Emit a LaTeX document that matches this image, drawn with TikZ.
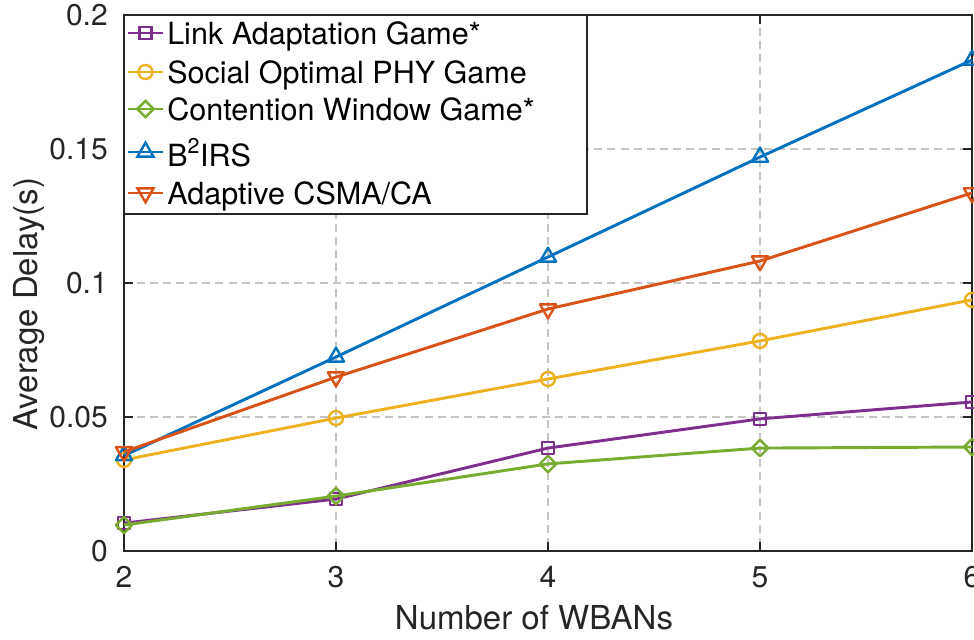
\documentclass[tikz,border=0pt]{standalone}
\usepackage{fontspec}
\setmainfont{TeX Gyre Heros}
\usetikzlibrary{shapes.geometric}

\definecolor{cpurple}{rgb}{0.494,0.184,0.556}
\definecolor{cyellow}{rgb}{0.929,0.694,0.125}
\definecolor{cgreen}{rgb}{0.466,0.674,0.188}
\definecolor{cblue}{rgb}{0,0.447,0.741}
\definecolor{corange}{rgb}{0.85,0.325,0.098}
\definecolor{caxis}{HTML}{262626}
\definecolor{cgrid}{HTML}{C4C4C4}

\tikzset{
  gridline/.style={draw=cgrid, line width=0.8pt, dash pattern=on 6pt off 3.8pt},
  axisline/.style={draw=caxis, line width=0.9pt},
  series/.style={line width=2.2pt, line join=round},
  mk/.style={draw, line width=1.8pt, inner sep=0pt, fill=none},
  sqmark/.style={mk, rectangle, minimum size=9pt},
  cimark/.style={mk, circle, minimum size=10.5pt},
  dimark/.style={mk, diamond, aspect=1, minimum size=13pt},
  upmark/.style={mk, regular polygon, regular polygon sides=3, minimum size=14pt},
  dnmark/.style={mk, regular polygon, regular polygon sides=3, minimum size=14pt, shape border rotate=180},
  ticklbl/.style={inner sep=0pt, font=\fontsize{22.5pt}{27pt}\selectfont, text=caxis},
  axlbl/.style={inner sep=0pt, font=\fontsize{24.75pt}{29pt}\selectfont, text=caxis},
  legtext/.style={inner sep=0pt, anchor=base west, font=\fontsize{22.9pt}{27pt}\selectfont},
}

\begin{document}
\begin{tikzpicture}[x=0.75pt, y=-0.75pt]
\useasboundingbox (0,0) rectangle (974,639);

% dashed grid
\foreach \gx in {336,548,760} \draw[gridline] (\gx,15) -- (\gx,551);
\foreach \gy in {149,283,417} \draw[gridline] (124,\gy) -- (972,\gy);

% axes box and inward ticks
\draw[axisline] (124,15) rectangle (972,551);
\foreach \gx in {124,336,548,760,972} {
  \draw[axisline] (\gx,551) -- (\gx,542);
  \draw[axisline] (\gx,15) -- (\gx,24);
}
\foreach \gy in {15,149,283,417,551} {
  \draw[axisline] (124,\gy) -- (133,\gy);
  \draw[axisline] (972,\gy) -- (963,\gy);
}

% tick labels
\node[ticklbl, anchor=east] (y0) at (108,551) {0};
\node[ticklbl, anchor=east] (y1) at (108,417) {0.05};
\node[ticklbl, anchor=east] (y2) at (108,283) {0.1};
\node[ticklbl, anchor=east] (y3) at (108,149) {0.15};
\node[ticklbl, anchor=east] (y4) at (108,15) {0.2};
\node[ticklbl, anchor=north] (x2) at (124,566) {2};
\node[ticklbl, anchor=north] (x3) at (336,566) {3};
\node[ticklbl, anchor=north] (x4) at (548,566) {4};
\node[ticklbl, anchor=north] (x5) at (760,566) {5};
\node[ticklbl, anchor=north] (x6) at (972,566) {6};

% axis labels
\node[axlbl, anchor=base] (xlabel) at (534,629) {Number of WBANs};
\node[axlbl, anchor=base, rotate=90] (ylabel) at (37,304) {Average Delay(s)};

% data series (x: number of WBANs, y: delay in s)
\begin{scope}[shift={(-300,551)}, x=159pt, y=2010pt]
  \draw[series, cpurple] (2,0.0104) node[sqmark]{} -- (3,0.0194) node[sqmark]{}
     -- (4,0.0384) node[sqmark]{} -- (5,0.0493) node[sqmark]{} -- (6,0.0556) node[sqmark]{};
  \draw[series, cyellow] (2,0.0340) node[cimark]{} -- (3,0.0496) node[cimark]{}
     -- (4,0.0642) node[cimark]{} -- (5,0.0784) node[cimark]{} -- (6,0.0937) node[cimark]{};
  \draw[series, cgreen] (2,0.0097) node[dimark]{} -- (3,0.0205) node[dimark]{}
     -- (4,0.0325) node[dimark]{} -- (5,0.0384) node[dimark]{} -- (6,0.0388) node[dimark]{};
  \draw[series, cblue] (2,0.0356) node[upmark]{} -- (3,0.0724) node[upmark]{}
     -- (4,0.1097) node[upmark]{} -- (5,0.1470) node[upmark]{} -- (6,0.1832) node[upmark]{};
  \draw[series, corange] (2,0.0370) node[dnmark]{} -- (3,0.0649) node[dnmark]{}
     -- (4,0.0903) node[dnmark]{} -- (5,0.1082) node[dnmark]{} -- (6,0.1336) node[dnmark]{};
\end{scope}

% legend
\draw[draw=caxis, line width=0.8pt, fill=white] (124,15) rectangle (587,214);
\draw[series, cpurple] (128,33) -- (163,33); \node[sqmark, cpurple] (lm1) at (145.5,33) {};
\node[legtext] (lt1) at (167,44) {Link Adaptation Game*};
\draw[series, cyellow] (128,72) -- (163,72); \node[cimark, cyellow] (lm2) at (145.5,72) {};
\node[legtext] (lt2) at (167,83) {Social Optimal PHY Game};
\draw[series, cgreen] (128,109) -- (163,109); \node[dimark, cgreen] (lm3) at (145.5,109) {};
\node[legtext] (lt3) at (167,120) {Contention Window Game*};
\draw[series, cblue] (128,152) -- (163,152); \node[upmark, cblue] (lm4) at (145.5,152) {};
\node[legtext] (lt4) at (167,166) {B\textsuperscript{2}IRS};
\draw[series, corange] (128,193) -- (163,193); \node[dnmark, corange] (lm5) at (145.5,193) {};
\node[legtext] (lt5) at (167,204) {Adaptive CSMA/CA};
\end{tikzpicture}
\end{document}
